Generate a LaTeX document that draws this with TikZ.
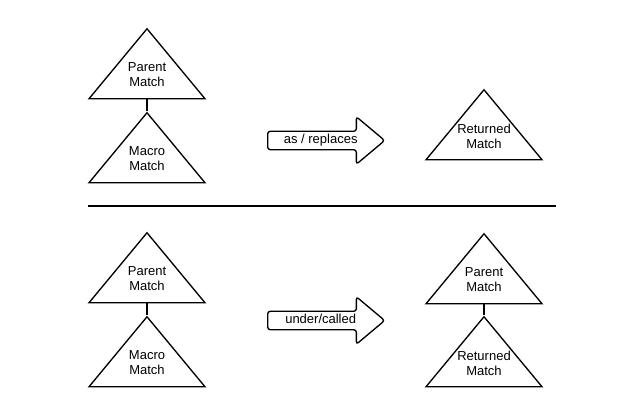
\documentclass[tikz,border=0pt]{standalone}
\usepackage{fontspec}
\setmainfont{Liberation Sans}
\usetikzlibrary{shapes.geometric, shapes.arrows, positioning, calc}

\begin{document}
\begin{tikzpicture}[x=0.75pt, y=-0.75pt,
  match/.style={draw, line width=1pt, isosceles triangle, shape border rotate=90,
    isosceles triangle stretches, minimum width=87pt, minimum height=52.5pt,
    inner sep=0pt, anchor=apex},
  matchtext/.style={align=center, inner sep=0pt, font=\fontsize{9.75}{11.25}\selectfont},
  bigarrow/.style={draw, line width=1pt, single arrow, single arrow tip angle=80,
    single arrow head extend=10.9pt, minimum height=87.75pt, text height=7pt,
    text depth=2pt, inner ysep=1.9pt, anchor=tail, rounded corners=2pt,
    font=\fontsize{9.75}{11.25}\selectfont},
  link/.style={line width=1.5pt}]
  \useasboundingbox (0,0) rectangle (635,412);

  % top row: macro as / replaces
  \node[match] (pm1) at (147,27) {};
  \node[matchtext] (pm1txt) at ([yshift=-36pt]pm1.apex) {Parent\\Match};
  \node[match] (mm1) at (147,111) {};
  \node[matchtext] (mm1txt) at ([yshift=-36pt]mm1.apex) {Macro\\Match};
  \draw[link] (pm1.south) -- (mm1.apex);

  \node[bigarrow] (ar1) at (267,140.5) {as / replaces};

  \node[match] (rm1) at (484,88) {};
  \node[matchtext] (rm1txt) at ([yshift=-36pt]rm1.apex) {Returned\\Match};

  % divider
  \draw[line width=1.5pt] (88,206) -- (556,206);

  % bottom row: macro under / called
  \node[match] (pm2) at (147,231) {};
  \node[matchtext] (pm2txt) at ([yshift=-36pt]pm2.apex) {Parent\\Match};
  \node[match] (mm2) at (147,315) {};
  \node[matchtext] (mm2txt) at ([yshift=-36pt]mm2.apex) {Macro\\Match};
  \draw[link] (pm2.south) -- (mm2.apex);

  \node[bigarrow] (ar2) at (267,320.5) {under/called};

  \node[match] (pr2) at (484,232) {};
  \node[matchtext] (pr2txt) at ([yshift=-36pt]pr2.apex) {Parent\\Match};
  \node[match] (rm2) at (484,315) {};
  \node[matchtext] (rm2txt) at ([yshift=-36pt]rm2.apex) {Returned\\Match};
  \draw[link] (pr2.south) -- (rm2.apex);
\end{tikzpicture}
\end{document}
